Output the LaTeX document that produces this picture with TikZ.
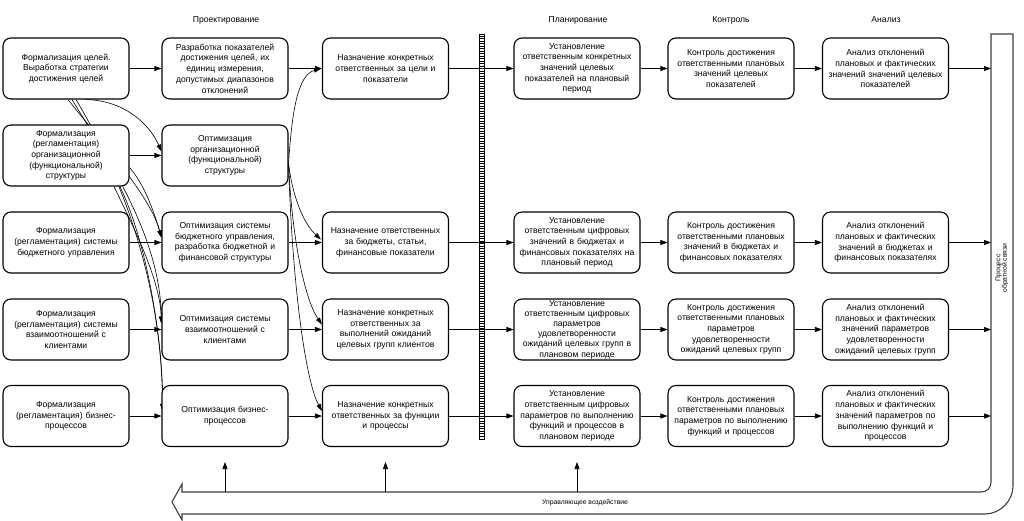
\documentclass[tikz,border=0pt]{standalone}
\usepackage{fontspec}
\setmainfont{Liberation Sans}
\usetikzlibrary{arrows.meta,calc,backgrounds}
\begin{document}
\begin{tikzpicture}[x=1pt,y=-1pt,
 box/.style={draw, line width=1.1pt, rounded corners=8pt, fill=white, minimum width=126pt, minimum height=61pt, text width=124pt, align=center, inner sep=0pt, font=\fontsize{8.6}{10.7}\selectfont},
 arr/.style={-{Triangle[length=7pt,width=5pt]}, line width=0.7pt},
 carr/.style={-{Triangle[length=7pt,width=4.5pt]}, line width=0.6pt},
 hdr/.style={font=\fontsize{8.6}{11}\selectfont, inner sep=0pt},
 fb/.style={draw=black!75, line width=1.1pt, fill=white},
 small/.style={font=\fontsize{6.8}{6.6}\selectfont, inner sep=0pt, align=center}]
\useasboundingbox (0,0) rectangle (1024,520);

% headers
\node[hdr] (h1) at (226,20) {Проектирование};
\node[hdr] (h2) at (578,20) {Планирование};
\node[hdr] (h3) at (731,20) {Контроль};
\node[hdr] (h4) at (886,20) {Анализ};

% column 1
\node[box] (r1c1) at (66,68.5) {Формализация целей.\\ Выработка стратегии\\ достижения целей};
\node[box] (r2c1) at (66,155.5) {Формализация\\ (регламентация)\\ организационной\\ (функциональной)\\ структуры};
\node[box] (r3c1) at (66,242.5) {Формализация\\ (регламентация) системы\\ бюджетного управления};
\node[box] (r4c1) at (66,329.5) {Формализация\\ (регламентация) системы\\ взаимоотношений с\\ клиентами};
\node[box] (r5c1) at (66,416) {Формализация\\ (регламентация) бизнес-\\ процессов};

% column 2
\node[box] (r1c2) at (225,68.5) {Разработка показателей\\ достижения целей, их\\ единиц измерения,\\ допустимых диапазонов\\ отклонений};
\node[box] (r2c2) at (225,155.5) {Оптимизация\\ организационной\\ (функциональной)\\ структуры};
\node[box] (r3c2) at (225,242.5) {Оптимизация системы\\ бюджетного управления,\\ разработка бюджетной и\\ финансовой структуры};
\node[box] (r4c2) at (225,329.5) {Оптимизация системы\\ взаимоотношений с\\ клиентами};
\node[box] (r5c2) at (225,416) {Оптимизация бизнес-\\ процессов};

% column 3
\node[box] (r1c3) at (385.5,68.5) {Назначение конкретных\\ ответственных за цели и\\ показатели};
\node[box] (r3c3) at (385.5,242.5) {Назначение ответственных\\ за бюджеты, статьи,\\ финансовые показатели};
\node[box] (r4c3) at (385.5,329.5) {Назначение конкретных\\ ответственных за\\ выполнений ожиданий\\ целевых групп клиентов};
\node[box] (r5c3) at (385.5,416) {Назначение конкретных\\ ответственных за функции\\ и процессы};

% column 4
\node[box] (r1c4) at (577,68.5) {Установление\\ ответственным конкретных\\ значений целевых\\ показателей на плановый\\ период};
\node[box] (r3c4) at (577,242.5) {Установление\\ ответственным цифровых\\ значений в бюджетах и\\ финансовых показателях на\\ плановый период};
\node[box, font=\fontsize{8.6}{10.2}\selectfont] (r4c4) at (577,329.5) {Установление\\ ответственным цифровых\\ параметров\\ удовлетворенности\\ ожиданий целевых групп в\\ плановом периоде};
\node[box] (r5c4) at (577,416) {Установление\\ ответственным цифровых\\ параметров по выполнению\\ функций и процессов в\\ плановом периоде};

% column 5
\node[box] (r1c5) at (731,68.5) {Контроль достижения\\ ответственными плановых\\ значений целевых\\ показателей};
\node[box] (r3c5) at (731,242.5) {Контроль достижения\\ ответственными плановых\\ значений в бюджетах и\\ финансовых показателях};
\node[box] (r4c5) at (731,329.5) {Контроль достижения\\ ответственными плановых\\ параметров\\ удовлетворенности\\ ожиданий целевых групп};
\node[box] (r5c5) at (731,416) {Контроль достижения\\ ответственными плановых\\ параметров по выполнению\\ функций и процессов};

% column 6
\node[box] (r1c6) at (885.5,68.5) {Анализ отклонений\\ плановых и фактических\\ значений значений целевых\\ показателей};
\node[box] (r3c6) at (885.5,242.5) {Анализ отклонений\\ плановых и фактических\\ значений в бюджетах и\\ финансовых показателях};
\node[box] (r4c6) at (885.5,329.5) {Анализ отклонений\\ плановых и фактических\\ значений параметров\\ удовлетворенности\\ ожиданий целевых групп};
\node[box] (r5c6) at (885.5,416) {Анализ отклонений\\ плановых и фактических\\ значений параметров по\\ выполнению функций и\\ процессов};

% curved connectors (behind boxes)
\begin{scope}[on background layer]
 % from r1c1
 \draw[carr] ($(r1c1.south)+(19,0)$) .. controls (125,100) and (150,125) .. ($(r2c2.west)+(0,-4)$);
 \draw[carr] ($(r1c1.south)+(2,0)$) .. controls (100,140) and (150,195) .. ($(r3c2.west)+(0,-5)$);
 \draw[carr] ($(r1c1.south)+(6,0)$) .. controls (115,170) and (160,240) .. ($(r4c2.west)+(0,-6)$);
 \draw[carr] ($(r1c1.south)+(10,0)$) .. controls (130,190) and (163,300) .. ($(r5c2.west)+(1,-5)$);
 % from r2c1
 \draw[carr] ($(r2c1.east)+(0,12)$) .. controls (145,185) and (155,215) .. ($(r3c2.west)+(0,-5)$);
 \draw[carr] ($(r2c1.south)+(48,0)$) .. controls (135,230) and (160,280) .. ($(r4c2.west)+(0,-6)$);
 \draw[carr] ($(r2c1.south)+(54,0)$) .. controls (150,250) and (163,350) .. ($(r5c2.west)+(1,-5)$);
 % from r2c2
 \draw[carr] ($(r2c2.east)+(0,8)$) .. controls (292,110) and (298,75) .. ($(r1c3.west)+(-1,0)$);
 \draw[carr] ($(r2c2.east)+(0,8)$) .. controls (293,200) and (305,225) .. ($(r3c3.west)+(-1,-3)$);
 \draw[carr] ($(r2c2.east)+(0,8)$) .. controls (292,240) and (305,300) .. ($(r4c3.west)+(0,-5)$);
 \draw[carr] ($(r2c2.east)+(0,8)$) .. controls (292,280) and (305,380) .. ($(r5c3.west)+(0,-5)$);
\end{scope}

% divider
\draw[line width=0.8pt, fill=white] (479.5,34) rectangle (484.5,439);
\foreach \yy in {36,38.5,...,438} \draw[line width=0.5pt] (479.5,\yy) -- (484.5,\yy);

% feedback arrow
\draw[fb] (991,34) -- (1013,34) -- (1013,486) .. controls (1013,501) and (1000,514) .. (985,514)
  -- (182,514) -- (182,520) -- (172,502) -- (182,484) -- (182,492) -- (981,492)
  .. controls (987,492) and (991,488) .. (991,482) -- cycle;
\node[small, rotate=90] (fbt) at (1002,268) {Процесс\\ обратной связи};
\node[small] (ctl) at (585,503) {Управляющее воздействие};

\coordinate (bar1) at (991,68.5);
\coordinate (bar3) at (991,242.5);
\coordinate (bar4) at (991,329.5);
\coordinate (bar5) at (991,416);
\coordinate (u1) at (225,492);
\coordinate (u2) at (385.5,492);
\coordinate (u3) at (577,492);
\coordinate (v1) at (225,462);
\coordinate (v2) at (385.5,462);
\coordinate (v3) at (577,462);

% horizontal arrows
\foreach \r in {1,3,4,5}{
 \draw[arr] (r\r c1.east) -- (r\r c2.west);
 \draw[arr] (r\r c2.east) -- (r\r c3.west);
 \draw[arr] (r\r c3.east) -- (r\r c4.west);
 \draw[arr] (r\r c4.east) -- (r\r c5.west);
 \draw[arr] (r\r c5.east) -- (r\r c6.west);
 \draw[arr] (r\r c6.east) -- (bar\r);
}
\draw[arr] (r2c1.east) -- (r2c2.west);

% control arrows
\draw[arr] (u1) -- (v1);
\draw[arr] (u2) -- (v2);
\draw[arr] (u3) -- (v3);
\end{tikzpicture}
\end{document}
